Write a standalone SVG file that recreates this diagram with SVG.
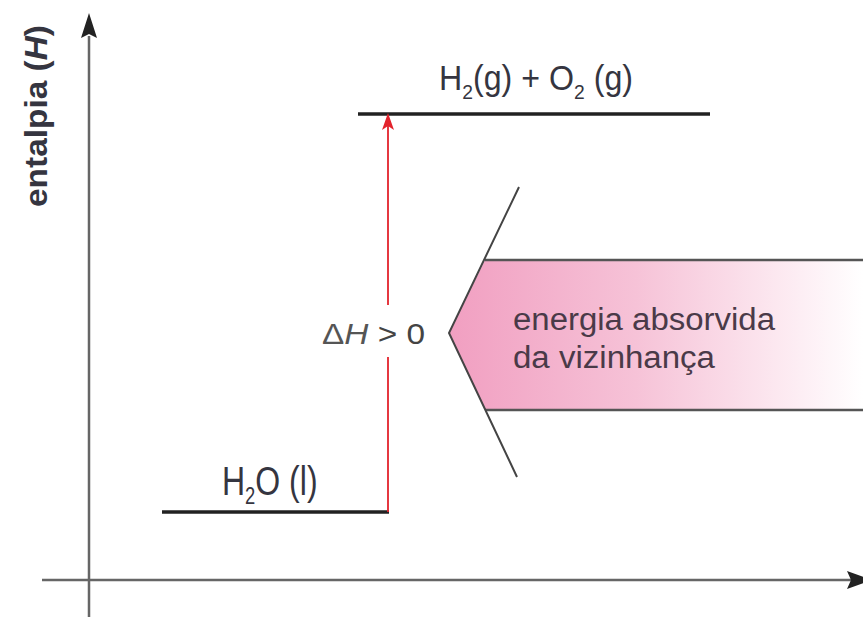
<svg xmlns="http://www.w3.org/2000/svg" width="863" height="617" viewBox="0 0 863 617">
<defs>
<linearGradient id="pink" x1="449" y1="0" x2="863" y2="0" gradientUnits="userSpaceOnUse">
<stop offset="0" stop-color="#f19fc1"/>
<stop offset="0.45" stop-color="#f6c2d7"/>
<stop offset="0.85" stop-color="#fdeef4"/>
<stop offset="1" stop-color="#ffffff"/>
</linearGradient>
</defs>
<style>
.t{font-family:"Liberation Sans",Arial,sans-serif;fill:#353540}
.lvl{stroke:#222;stroke-width:3.5;fill:none}
.axis{stroke:#666;stroke-width:2.5;fill:none}
.lab{fill:#4a3a48}
</style>
<rect width="863" height="617" fill="#fff"/>

<g id="axes">
<line class="axis" x1="89" y1="36" x2="89" y2="617"/>
<path d="M89,13 L81,38 L89,34 L97,38 Z" fill="#222"/>
<line class="axis" x1="42" y1="580" x2="852" y2="580"/>
<path d="M872,580 L847,571 L851,580 L847,589 Z" fill="#222"/>
</g>

<g id="ylabel">
<text class="t" transform="translate(47,116) rotate(-90)" text-anchor="middle" font-size="31" font-weight="bold" textLength="182" lengthAdjust="spacingAndGlyphs">entalpia (<tspan font-style="italic">H</tspan>)</text>
</g>

<g id="energy-arrow">
<path d="M863,260 L485,260 L449,333 L485,410 L863,410 Z" fill="url(#pink)"/>
<line x1="485" y1="260" x2="863" y2="260" stroke="#555" stroke-width="2.5"/>
<line x1="485" y1="410" x2="863" y2="410" stroke="#555" stroke-width="2.5"/>
<polyline points="519,187 449,333 517,477" fill="none" stroke="#444" stroke-width="2"/>
<text class="t lab" x="513" y="330" font-size="31" textLength="262" lengthAdjust="spacingAndGlyphs">energia absorvida</text>
<text class="t lab" x="513" y="368" font-size="31" textLength="202" lengthAdjust="spacingAndGlyphs">da vizinhança</text>
</g>

<g id="level-products">
<line class="lvl" x1="358" y1="114" x2="710" y2="114"/>
<text class="t" transform="translate(439,90) scale(0.92,1)" x="0" y="0" font-size="35">H<tspan font-size="21" dy="9">2</tspan><tspan dy="-9">(g) + O</tspan><tspan font-size="21" dy="9">2</tspan><tspan dy="-9"> (g)</tspan></text>
</g>

<g id="level-reactant">
<line class="lvl" x1="162" y1="512" x2="389" y2="512"/>
<text class="t" transform="translate(222,495) scale(0.8,1)" x="0" y="0" font-size="40">H<tspan font-size="23" dy="9">2</tspan><tspan dy="-9">O (l)</tspan></text>
</g>

<g id="connectors">
<line x1="388" y1="512" x2="388" y2="357" stroke="#e3232c" stroke-width="1.8"/>
<line x1="388" y1="305" x2="388" y2="124" stroke="#e3232c" stroke-width="1.8"/>
<path d="M388,113 L382,130 L388,126 L394,130 Z" fill="#e3232c"/>
</g>

<g id="delta-label">
<text class="t" x="322" y="344" font-size="30" textLength="103" lengthAdjust="spacingAndGlyphs" style="fill:#444"><tspan style="fill:#555">Δ</tspan><tspan font-style="italic" style="fill:#555">H</tspan> &gt; 0</text>
</g>
</svg>
